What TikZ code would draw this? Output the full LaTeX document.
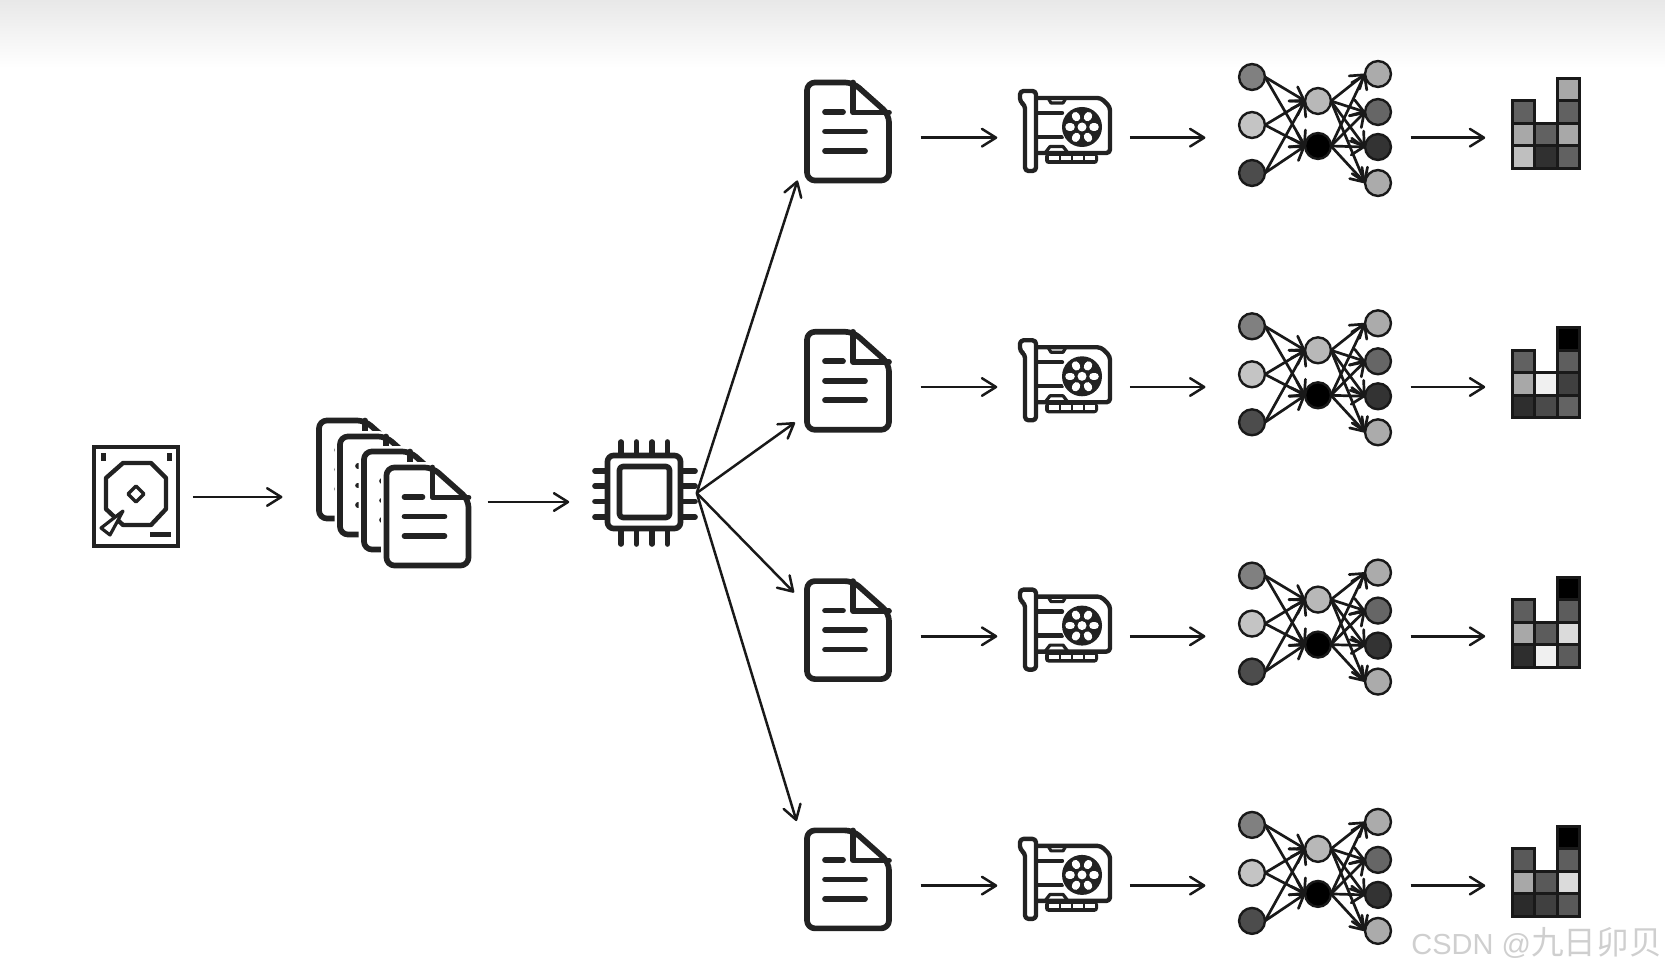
\documentclass[tikz,border=0pt]{standalone}
\usepackage{fontspec}
\usepackage{tikz}
\usetikzlibrary{arrows.meta, calc}
\newfontfamily\cjk{Noto Sans CJK SC}
\newfontfamily\marklatin{Liberation Sans}
\definecolor{iconink}{HTML}{222222}
\definecolor{markgray}{HTML}{CFCFCF}
\def\pxu{0.5669pt}
\tikzset{
    icon/.style={draw=iconink, line width=5.7*\pxu, line join=round, line cap=round},
    iconmid/.style={draw=iconink, line width=4.4*\pxu, line join=round, line cap=round},
    iconthin/.style={draw=iconink, line width=3.2*\pxu, line join=round, line cap=round},
    iconbox/.style={inner sep=0pt, outer sep=0pt, minimum height=20pt},
    flowarrow/.style={draw=black!90, line width=2.5*\pxu, -{Straight Barb[length=8pt, width=10pt, round]}},
    nncircle/.style={circle, draw=black!90, line width=2.4*\pxu, inner sep=0pt, outer sep=0pt, minimum size=26*\pxu},
    nnedge/.style={draw=black!90, line width=2.7*\pxu, -{Straight Barb[length=7pt, width=9.5pt, round]}},
    histcell/.style={draw=black!90, line width=3*\pxu},
    % page with text lines and folded corner
    docicon/.pic={
        \path[fill=white, draw=white, line width=11*\pxu, rounded corners=4.5pt] (-41,-49) -- (5,-49) -- (41,-17) -- (41,49) -- (-41,49) -- cycle;
        \draw[icon, fill=white, rounded corners=4.5pt] (-41,-49) -- (5,-49) -- (41,-17) -- (41,49) -- (-41,49) -- cycle;
        \draw[icon] (5,-49) -- (5,-19) -- (41,-19);
        \draw[icon] (-23,-19.5) -- (-5,-19.5);
        \draw[icon] (-23,0) -- (17,0);
        \draw[icon] (-23,19.5) -- (17,19.5);
    },
    % graphics card with fan
    gpuicon/.pic={
        \draw[iconmid, rounded corners=2pt] (1036,91) -- (1020,91) -- (1020,102) -- (1025,105) -- (1025,171) -- (1036,171) -- cycle;
        \draw[iconmid, rounded corners=2pt] (1038,98) -- (1101,98) -- (1110,107) -- (1110,153) -- (1038,153);
        \draw[iconthin] (1048,98) -- (1051,103) -- (1063,103) -- (1066,98);
        \draw[iconmid] (1038,113) -- (1062,113);
        \draw[iconmid] (1038,137) -- (1062,137);
        \draw[iconthin] (1045,153) -- (1050,146.5) -- (1063,146.5) -- (1068,153);
        \fill[iconink, rounded corners=2pt] (1045,153) rectangle (1098,164);
        \foreach \slotx in {1049,1061,1073,1085}
            \fill[white] (\slotx,156) rectangle ++(9.5,4.5);
        % fan wheel
        \fill[white] (1082,127) circle (21);
        \fill[iconink] (1082,127) circle (20);
        \foreach \fana in {0,60,...,300}
            \draw[white, line width=7.5*\pxu, line cap=round] ($(1082,127)+(\fana:11)$) -- ($(1082,127)+(\fana:13)$);
        \fill[white] (1082,127) circle (4.5);
    },
}
\begin{document}
\begin{tikzpicture}[x=0.02cm, y=-0.02cm]
    \useasboundingbox (0,0) rectangle (1665,972);

    % top shadow band
    \shade[top color=black!9, bottom color=white] (0,0) rectangle (1665,68);

    % disk
    \node[iconbox, minimum width=114*\pxu] (hdd) at (136,497) {};
    \draw[iconmid, line cap=butt, line join=miter] (94,447) rectangle (178,546);
    \fill[iconink] (101,453) rectangle (105.5,461);
    \fill[iconink] (167,453) rectangle (171.5,461);
    \draw[iconmid, fill=white] (123,463) -- (151,463) -- (166,478) -- (166,509) -- (151,525) -- (123,525) -- (106,509) -- (106,478) -- cycle;
    \draw[iconthin] (136,486) -- (144,494) -- (136,502) -- (128,494) -- cycle;
    \draw[iconthin, fill=white] (123,511) -- (101,528) -- (110,535) -- cycle;
    \fill[iconink] (150,532) rectangle (171,536.5);

    % stack of pages
    \node[iconbox, minimum width=206*\pxu] (stack) at (385,502) {};
    \foreach \sx/\sy in {360/469.5, 381/485.5, 405/500.5, 427.5/516.5}
        \pic at (\sx,\sy) {docicon};

    % processor
    \node[iconbox, minimum width=128*\pxu] (cpu) at (633,493) {};
    \draw[icon, rounded corners=3.5pt] (607.5,455.5) rectangle (680.5,528.5);
    \draw[icon, rounded corners=2pt] (619.5,466.5) rectangle (669.5,517.5);
    \foreach \pin in {621,636.5,652,667.5} {
        \draw[icon] (\pin,442) -- (\pin,453);
        \draw[icon] (\pin,531) -- (\pin,544);
    }
    \foreach \pin in {471,486,501.5,517} {
        \draw[icon] (595,\pin) -- (605,\pin);
        \draw[icon] (683,\pin) -- (695,\pin);
    }

    % free ends of the fan of arrows
    \coordinate (fan1) at (797.5,180.5);
    \coordinate (fan2) at (795,422.5);
    \coordinate (fan3) at (794,592.5);
    \coordinate (fan4) at (796.5,821);

    \draw[flowarrow] (hdd.east) -- (hdd.east -| stack.west);
    \draw[flowarrow] (stack.east) -- (stack.east -| cpu.west);
    \foreach \rowi in {1,2,3,4}
        \draw[flowarrow] (cpu.east) -- (fan\rowi);

    % one row each: page, card, network, histogram
    \foreach \rowi/\yr/\va/\vb/\vc/\vd/\ve/\vf/\vg/\vh/\vi in {
        1/0/62/34/25/62/81/34/62/34/62,
        2/249.3/62/34/82/6/71/100/63/75/61,
        3/498.6/63/34/82/64/6/100/64/14/64,
        4/747.9/65/34/83/65/75/100/63/14/65} {
        \node[iconbox, minimum width=146*\pxu] (doc\rowi) at (848,137.7+\yr) {};
        \node[iconbox, minimum width=133*\pxu] (gpu\rowi) at (1063.5,137.7+\yr) {};
        \node[iconbox, minimum width=206*\pxu] (net\rowi) at (1308,137.7+\yr) {};
        \node[iconbox, minimum width=110*\pxu] (hist\rowi) at (1540,137.7+\yr) {};

        \pic at (848,131.5+\yr) {docicon};
        \pic at (0,\yr) {gpuicon};

        % network
        \foreach \nid/\ny/\ncol in {1/77/50, 2/125/23, 3/173/70}
            \node[nncircle, fill=black!\ncol] (nni\rowi\nid) at (1252,\ny+\yr) {};
        \foreach \nid/\ny/\ncol in {1/101/28, 2/146/100}
            \node[nncircle, fill=black!\ncol] (nnh\rowi\nid) at (1318,\ny+\yr) {};
        \foreach \nid/\ny/\ncol in {1/74/33, 2/112/60, 3/147/80, 4/183/33}
            \node[nncircle, fill=black!\ncol] (nno\rowi\nid) at (1378,\ny+\yr) {};
        \foreach \na in {1,2,3}
            \foreach \nb in {1,2}
                \draw[nnedge] (nni\rowi\na.east) -- (nnh\rowi\nb.west);
        \foreach \na in {1,2}
            \foreach \nb in {1,2,3,4}
                \draw[nnedge] (nnh\rowi\na.east) -- (nno\rowi\nb.west);

        % histogram
        \foreach \cx/\cy/\cval in {1512/101/\va, 1512/123.5/\vb, 1512/146/\vc, 1534.5/123.5/\vd, 1534.5/146/\ve, 1557/78.5/\vf, 1557/101/\vg, 1557/123.5/\vh, 1557/146/\vi}
            \draw[histcell, fill=black!\cval] (\cx,\cy+\yr) rectangle ++(22.5,22.5);

        \draw[flowarrow] (doc\rowi.east) -- (gpu\rowi.west);
        \draw[flowarrow] (gpu\rowi.east) -- (net\rowi.west);
        \draw[flowarrow] (net\rowi.east) -- (hist\rowi.west);
    }

    % watermark
    \node[anchor=base west, inner sep=0pt, text=markgray] (mark) at (1411,954) {\marklatin\fontsize{16.5}{16.5}\selectfont CSDN @\cjk\fontsize{18.6}{18.6}\selectfont 九日卯贝};
\end{tikzpicture}
\end{document}
